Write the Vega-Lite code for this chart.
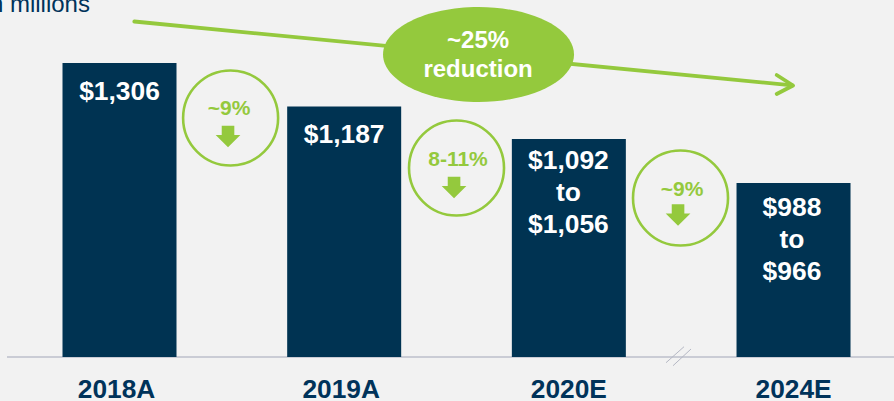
{
"$schema":"https://vega.github.io/schema/vega-lite/v6.json",
"width":894,"height":401,"padding":0,"autosize":{"type":"none"},
"background":"#f2f2f2",
"config":{"view":{"stroke":null},"font":"Liberation Sans"},
"resolve":{"scale":{"y":"independent"}},
"encoding":{"x":{"field":"x","type":"quantitative","title":null,
  "scale":{"domain":[-0.5319,3.4472],"nice":false,"zero":false,"padding":0},
  "axis":{"values":[0,1,2,3],"labelExpr":"['2018A','2019A','2020E','2024E'][datum.value]","grid":false,"domain":false,"ticks":false,"offset":-44,"labelPadding":19,"labelOffset":{"condition":{"test":"datum.value<2","value":-3.5},"value":-0.5},"labelFontSize":26.3,"labelFontWeight":"bold","labelColor":"#00335a","labelFont":"Liberation Sans","labelOverlap":false,"labelFlush":false,"labelBaseline":"top"}}},
"layer":[
{"data":{"values":[{"x":-0.5007,"x2":3.4472,"y":357}]},
 "mark":{"type":"rule","color":"#bcbfcb","strokeWidth":1.5},
 "encoding":{"x2":{"field":"x2"},"y":{"field":"y","type":"quantitative","axis":null,"scale":{"domain":[0,401],"range":[0,401],"nice":false,"zero":false}}}},
{"data":{"values":[{"x":0,"year":"2018A","value":1306},{"x":1,"year":"2019A","value":1187},{"x":2,"year":"2020E","value":1092},{"x":3,"year":"2024E","value":988}]},
 "mark":{"type":"bar","color":"#003352","size":114,"clip":false},
 "encoding":{"y":{"field":"value","type":"quantitative","axis":null,"scale":{"domain":[500,988,1092,1187,1306],"range":[357,183,139,106.5,63],"nice":false,"zero":false}},"y2":{"datum":500}}},
{"data":{"values":[{"x":0,"y":92,"t":"$1,306"},{"x":1,"y":135,"t":"$1,187"},{"x":1.998,"y":161,"t":"$1,092\nto\n$1,056"},{"x":2.993,"y":207.5,"t":"$988\nto\n$966"}]},
 "mark":{"type":"text","color":"#ffffff","fontWeight":"bold","fontSize":26.4,"lineBreak":"\n","lineHeight":32.2,"baseline":"middle"},
 "encoding":{"text":{"field":"t"},"y":{"field":"y","type":"quantitative","axis":null,"scale":{"domain":[0,401],"range":[0,401],"nice":false,"zero":false}}}},
{"data":{"values":[{"x":2.4325,"y":362.7,"s":"a"},{"x":2.5126,"y":346.7,"s":"a"},{"x":2.4637,"y":365.7,"s":"b"},{"x":2.5438,"y":349,"s":"b"}]},
 "mark":{"type":"line","color":"#b5b8c4","strokeWidth":1},
 "encoding":{"detail":{"field":"s"},"order":{"field":"y","sort":"descending"},"y":{"field":"y","type":"quantitative","axis":null,"scale":{"domain":[0,401],"range":[0,401],"nice":false,"zero":false}}}},
{"data":{"values":[{"x":0.066,"y":21.5,"s":"shaft","o":1},{"x":2.995,"y":85.3,"s":"shaft","o":2},{"x":2.925,"y":75,"s":"head","o":1},{"x":2.998,"y":85.5,"s":"head","o":2},{"x":2.925,"y":94,"s":"head","o":3}]},
 "mark":{"type":"line","color":"#94c93d","strokeWidth":3.8,"strokeCap":"round","strokeJoin":"round"},
 "encoding":{"detail":{"field":"s"},"order":{"field":"o"},"y":{"field":"y","type":"quantitative","axis":null,"scale":{"domain":[0,401],"range":[0,401],"nice":false,"zero":false}}}},
{"data":{"values":[{"x":1.598,"y":54.5}]},
 "mark":{"type":"point","filled":true,"color":"#94c93d","opacity":1,"size":36481,"shape":"M -1 0 A 1 0.497 0 1 1 1 0 A 1 0.497 0 1 1 -1 0 Z"},
 "encoding":{"y":{"field":"y","type":"quantitative","axis":null,"scale":{"domain":[0,401],"range":[0,401],"nice":false,"zero":false}}}},
{"data":{"values":[{"x":1.596,"y":41,"t":"~25%\nreduction"}]},
 "mark":{"type":"text","color":"#ffffff","fontWeight":"bold","fontSize":24,"lineBreak":"\n","lineHeight":29,"baseline":"middle"},
 "encoding":{"text":{"field":"t"},"y":{"field":"y","type":"quantitative","axis":null,"scale":{"domain":[0,401],"range":[0,401],"nice":false,"zero":false}}}},
{"data":{"values":[{"x":0.4945,"y":118},{"x":1.5,"y":168},{"x":2.497,"y":198}]},
 "mark":{"type":"point","filled":false,"color":"#94c93d","opacity":1,"strokeWidth":2.6,"size":9025,"shape":"circle"},
 "encoding":{"y":{"field":"y","type":"quantitative","axis":null,"scale":{"domain":[0,401],"range":[0,401],"nice":false,"zero":false}}}},
{"data":{"values":[{"x":0.4874,"y":109,"t":"~9%"},{"x":1.5066,"y":160,"t":"8-11%"},{"x":2.5036,"y":190,"t":"~9%"}]},
 "mark":{"type":"text","color":"#94c93d","fontWeight":"bold","fontSize":21,"baseline":"middle"},
 "encoding":{"text":{"field":"t"},"y":{"field":"y","type":"quantitative","axis":null,"scale":{"domain":[0,401],"range":[0,401],"nice":false,"zero":false}}}},
{"data":{"values":[{"x":0.483,"y":136.5},{"x":1.489,"y":187.5},{"x":2.486,"y":215}]},
 "mark":{"type":"point","filled":true,"color":"#94c93d","opacity":1,"size":610,"shape":"M -0.51 -0.88 L 0.51 -0.88 L 0.51 -0.13 L 1 -0.13 L 0 0.88 L -1 -0.13 L -0.51 -0.13 Z"},
 "encoding":{"y":{"field":"y","type":"quantitative","axis":null,"scale":{"domain":[0,401],"range":[0,401],"nice":false,"zero":false}}}},
{"data":{"values":[{"x":-0.1314,"y":5,"t":"in millions"}]},
 "mark":{"type":"text","color":"#00335a","fontSize":24,"align":"right","baseline":"middle"},
 "encoding":{"text":{"field":"t"},"y":{"field":"y","type":"quantitative","axis":null,"scale":{"domain":[0,401],"range":[0,401],"nice":false,"zero":false}}}}
]
}
